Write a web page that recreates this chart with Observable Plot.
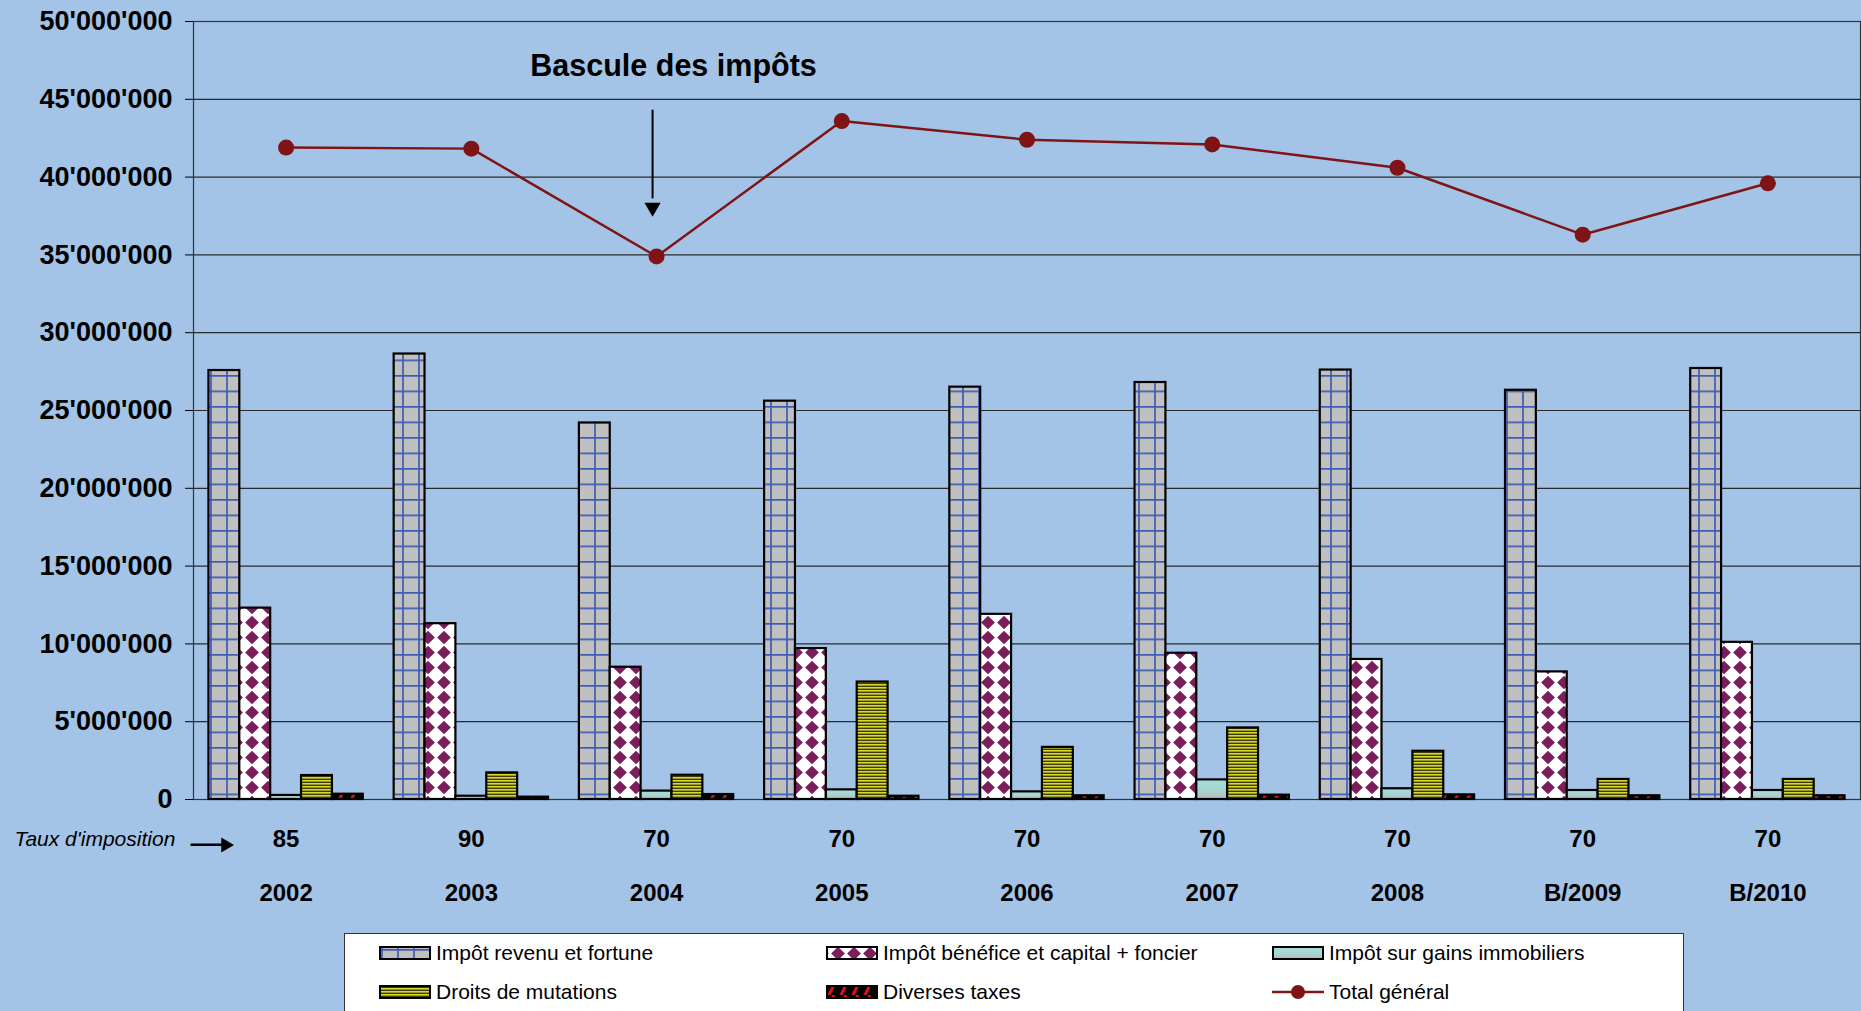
<!DOCTYPE html>
<html><head><meta charset="utf-8">
<script src="https://cdn.jsdelivr.net/npm/d3@7"></script>
<script src="https://cdn.jsdelivr.net/npm/@observablehq/plot@0.6"></script>
<style>
html,body{margin:0;padding:0;background:#a3c4e6;overflow:hidden;width:1861px;height:1011px;font-family:"Liberation Sans",Arial,sans-serif;}
#chart svg{display:block}
#legend{position:absolute;left:344px;top:933px;width:1340px;height:110px;background:#fff;border:1.5px solid #333;box-sizing:border-box}
.item{position:absolute;display:flex;align-items:center;font-size:21px;color:#000;white-space:nowrap;height:24px}
.item svg{margin-right:5px;display:block}
</style></head><body>
<div id="chart"></div><div id="legend"></div>
<script>
// ---- data ----
const years = ["2002","2003","2004","2005","2006","2007","2008","B/2009","B/2010"];
const rates = [85, 90, 70, 70, 70, 70, 70, 70, 70];
const seriesNames = ["Impôt revenu et fortune","Impôt bénéfice et capital + foncier","Impôt sur gains immobiliers","Droits de mutations","Diverses taxes"];
const totalName = "Total général";
const revenu   = [27570000, 28630000, 24200000, 25600000, 26500000, 26800000, 27600000, 26300000, 27700000];
const benefice = [12300000, 11300000,  8500000,  9700000, 11900000,  9400000,  9000000,  8200000, 10100000];
const gains    = [  260000,   210000,   540000,   620000,   490000,  1260000,   690000,   580000,   580000];
const droits   = [ 1540000,  1710000,  1560000,  7550000,  3350000,  4600000,  3100000,  1290000,  1290000];
const diverses = [  340000,   150000,   320000,   210000,   240000,   280000,   300000,   240000,   240000];
const total    = [41900000, 41830000, 34900000, 43600000, 42400000, 42100000, 40600000, 36300000, 39600000];
const yTicks = [0, 5000000, 10000000, 15000000, 20000000, 25000000, 30000000, 35000000, 40000000, 45000000, 50000000];
const annotation = "Bascule des impôts";
const rateLabel = "Taux d'imposition";

// ---- build ----
const seriesValues = [revenu, benefice, gains, droits, diverses];
const fills = ["url(#p-revenu)","url(#p-benefice)","url(#g-gains)","url(#p-droits)","url(#p-diverses)"];
const rows = years.flatMap((y, i) => seriesNames.map((s, j) => ({year: y, series: s, key: `${y}|${j}`, value: seriesValues[j][i]})));
const xDomain = years.flatMap((y, i) => {
  const k = seriesNames.map((s, j) => `${y}|${j}`);
  return i < years.length - 1 ? [...k, `${y}|gap`] : k;
});
const centers = years.map((y, i) => ({key: `${y}|2`, year: y, rate: rates[i], total: total[i]}));
const fmt = d => d === 0 ? "0" : d3.format(",")(d).replace(/,/g, "'");

const svg = Plot.plot({
  width: 1861, height: 933,
  marginLeft: 193, marginRight: 1, marginTop: 21, marginBottom: 134,
  style: {fontFamily: '"Liberation Sans", Arial, sans-serif', fontSize: "27px", fontWeight: "bold", background: "transparent", color: "#000", overflow: "visible"},
  x: {type: "band", domain: xDomain, paddingInner: 0, paddingOuter: 0.5, axis: null, round: false},
  y: {domain: [0, 50000000], ticks: yTicks, tickFormat: fmt, tickSize: 8, tickPadding: 13, label: null},
  color: {type: "ordinal", domain: seriesNames, range: fills},
  marks: [
    Plot.ruleY(yTicks, {stroke: "#2a2a2a", strokeWidth: 1.2}),
    Plot.frame({stroke: "#333", strokeWidth: 1.2}),
    Plot.barY(rows, {x: "key", y: "value", fill: "series", stroke: "#000", strokeWidth: 2.2}),
    Plot.line(centers, {x: "key", y: "total", stroke: "#7f1416", strokeWidth: 2.5}),
    Plot.dot(centers, {x: "key", y: "total", r: 8, fill: "#7f1416", stroke: "none"}),
    Plot.text(centers, {x: "key", text: "rate", frameAnchor: "bottom", dy: 47, fontSize: 24, fontWeight: "bold"}),
    Plot.text(centers, {x: "key", text: "year", frameAnchor: "bottom", dy: 101, fontSize: 24, fontWeight: "bold"}),
    Plot.text([rateLabel], {frameAnchor: "bottom-left", dx: -179, dy: 46, textAnchor: "start", fontStyle: "italic", fontWeight: "normal", fontSize: 21}),
    Plot.text(["\u2014"], {frameAnchor: "bottom-left", dx: -3, dy: 54.5, textAnchor: "start", fontSize: 36, fontWeight: "normal"}),
    Plot.dot([0], {frameAnchor: "bottom-left", dx: 32, dy: 45.5, symbol: "triangle", rotate: 90, r: 5.5, fill: "#000", stroke: "none"}),
    Plot.text([annotation], {x: () => "2004|2", y: () => 47100000, dx: 17, fontSize: 30.5, fontWeight: "bold"}),
    Plot.ruleX([annotation], {x: () => "2004|2", y1: () => 44300000, y2: () => 38600000, dx: -4, stroke: "#000", strokeWidth: 2}),
    Plot.dot([annotation], {x: () => "2004|2", y: () => 38050000, dx: -4, symbol: "triangle", rotate: 180, r: 6, fill: "#000", stroke: "none"})
  ]
});

const defs = document.createElementNS("http://www.w3.org/2000/svg", "defs");
defs.innerHTML = `
<pattern id="p-revenu" patternUnits="userSpaceOnUse" width="16" height="15.5" x="0" y="3">
  <rect width="16" height="15.5" fill="#c0c0c0"/>
  <path d="M0 0.8H16M3 0V15.5" stroke="#3c5cb6" stroke-width="1.7"/>
</pattern>
<pattern id="p-benefice" patternUnits="userSpaceOnUse" width="16" height="15" x="4" y="0">
  <rect width="16" height="15" fill="#ffffff"/>
  <path d="M8 0.8L14.9 7.5L8 14.2L1.1 7.5Z" fill="#7a1f5c"/>
</pattern>
<linearGradient id="g-gains" x1="0" y1="0" x2="0" y2="1">
  <stop offset="0" stop-color="#a3e0dc"/>
  <stop offset="0.55" stop-color="#a9d3cf"/>
  <stop offset="1" stop-color="#b9b9b9"/>
</linearGradient>
<pattern id="p-droits" patternUnits="userSpaceOnUse" width="8" height="3">
  <rect width="8" height="3" fill="#3b3b0e"/>
  <rect width="8" height="1.6" fill="#d9d92c"/>
</pattern>
<pattern id="p-diverses" patternUnits="userSpaceOnUse" width="12" height="10">
  <rect width="12" height="10" fill="#000"/>
  <path d="M3 10L8 0" stroke="#e0101a" stroke-width="3"/>
</pattern>`;
svg.insertBefore(defs, svg.firstChild);
document.getElementById("chart").appendChild(svg);

// ---- legend ----
const legend = document.getElementById("legend");
const legendItems = [
  {name: seriesNames[0], fill: fills[0]},
  {name: seriesNames[1], fill: fills[1]},
  {name: seriesNames[2], fill: fills[2]},
  {name: seriesNames[3], fill: fills[3]},
  {name: seriesNames[4], fill: fills[4]},
  {name: totalName, line: true}
];
const colLeft = [34, 481, 927];
const rowTop = [7, 46];
legendItems.forEach((d, i) => {
  const el = document.createElement("div");
  el.className = "item";
  el.style.left = colLeft[i % 3] + "px";
  el.style.top = rowTop[Math.floor(i / 3)] + "px";
  const sw = d.line
    ? `<svg width="52" height="18"><line x1="0" x2="52" y1="9" y2="9" stroke="#7f1416" stroke-width="2.5"/><circle cx="26" cy="9" r="7" fill="#7f1416"/></svg>`
    : `<svg width="52" height="14"><rect x="1" y="1" width="50" height="12" fill="${d.fill}" stroke="#000" stroke-width="2"/></svg>`;
  el.innerHTML = sw + `<span>${d.name}</span>`;
  legend.appendChild(el);
});
</script></body></html>
